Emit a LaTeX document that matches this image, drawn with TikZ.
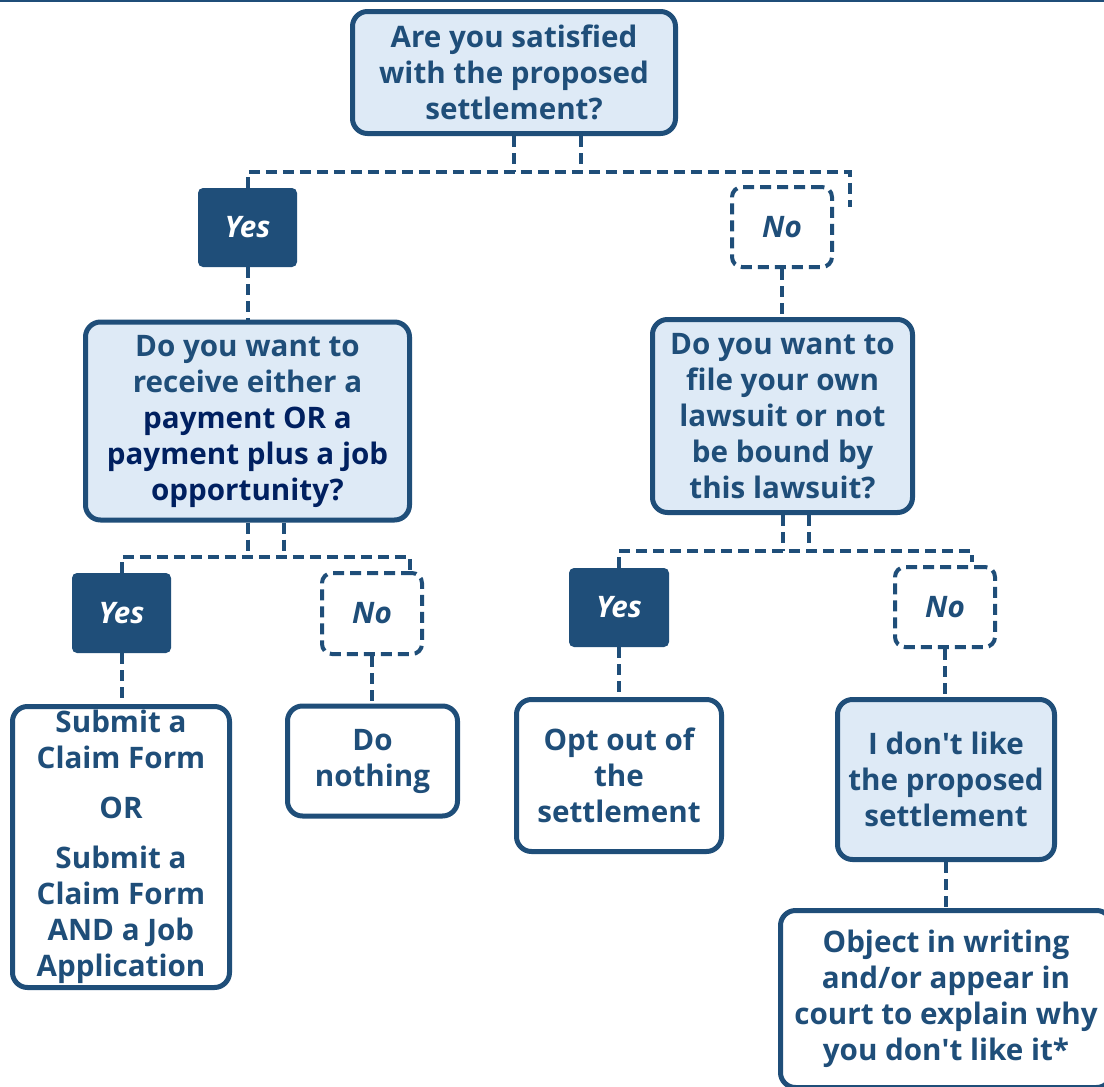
\documentclass[tikz,border=0pt]{standalone}
\usepackage{fontspec}
\setmainfont{Open Sans}
\setmonofont{Open Sans}
\definecolor{dblue}{HTML}{1F4E79}
\definecolor{navy}{HTML}{002060}
\definecolor{lblue}{HTML}{DEEAF6}
\newcommand{\apo}{{\ttfamily\bfseries '}}
\tikzset{
  txt/.style={font=\fontsize{14.8}{18}\selectfont\bfseries, text=dblue, align=center, inner sep=0pt},
  qbox/.style={txt, draw=dblue, line width=2.5pt, fill=lblue, rounded corners=7.5pt},
  abox/.style={txt, draw=dblue, line width=2.5pt, fill=white, rounded corners=7.5pt},
  yesbox/.style={txt, font=\fontsize{14.8}{18}\selectfont\bfseries\itshape, text=white, fill=dblue, rounded corners=2.5pt},
  nobox/.style={txt, font=\fontsize{14.8}{18}\selectfont\bfseries\itshape, draw=dblue, line width=2pt, dash pattern=on 5.5pt off 3pt, fill=white, rounded corners=5pt},
  conn/.style={draw=dblue, line width=2pt, dash pattern=on 5.5pt off 3pt}
}
\begin{document}
\begin{tikzpicture}[x=0.5pt, y=-0.5pt]
\useasboundingbox (0,0) rectangle (1104,1087);
\clip (0,0) rectangle (1104,1087);
\fill[white] (0,0) rectangle (1104,1087);
\draw[dblue, line width=1pt] (0,1) -- (1104,1);

% nodes
\node[qbox, minimum width=161.5pt, minimum height=61pt] (q1) at (514,72.5)
  {Are you satisfied\\with the proposed\\settlement?};
\node[yesbox, minimum width=49.5pt, minimum height=39.5pt] (yes1) at (247.5,227.5) {Yes};
\node[nobox, minimum width=50pt, minimum height=40pt] (no1) at (782,227) {No};

\node[qbox, minimum width=162pt, minimum height=99pt] (q2) at (247.5,421)
  {Do you want to\\receive either a\\\textcolor{navy}{payment OR a}\\\textcolor{navy}{payment plus a job}\\\textcolor{navy}{opportunity?}};
\node[qbox, minimum width=130pt, minimum height=96.5pt] (q3) at (782.5,416)
  {Do you want to\\file your own\\lawsuit or not\\be bound by\\this lawsuit?};

\node[yesbox, minimum width=49.5pt, minimum height=40pt] (yes2) at (121.5,613) {Yes};
\node[nobox, minimum width=50pt, minimum height=40.5pt] (no2) at (372,613.5) {No};
\node[yesbox, minimum width=50pt, minimum height=39.5pt] (yes3) at (619,607.5) {Yes};
\node[nobox, minimum width=50pt, minimum height=40pt] (no3) at (945,607) {No};

\node[abox, minimum width=108.5pt, minimum height=140.5pt] (claim) at (121,847)
  {Submit a\\Claim Form\\[7pt]OR\\[7pt]Submit a\\Claim Form\\AND a Job\\Application};
\node[abox, minimum width=85pt, minimum height=55pt] (nothing) at (372.5,761)
  {Do\\nothing};
\node[abox, minimum width=102.5pt, minimum height=76pt] (optout) at (619,775.5)
  {Opt out of\\the\\settlement};
\node[qbox, minimum width=108.5pt, minimum height=80pt] (dislike) at (946,779.5)
  {I don\apo t like\\the proposed\\settlement};
\node[abox, minimum width=165.5pt, minimum height=88.5pt] (object) at (946,999)
  {Object in writing\\and/or appear in\\court to explain why\\you don\apo t like it*};

% bus coordinates and free ends
\coordinate (bus1) at (0,172);
\coordinate (end1) at (850,207);
\coordinate (bus2) at (0,557);
\coordinate (end2) at (410,572);
\coordinate (bus3) at (0,551);
\coordinate (end3) at (972,562);

% first split
\draw[conn] (q1.south) -- (q1.south |- bus1);
\draw[conn] ([xshift=33.5pt]q1.south) -- ([xshift=33.5pt]q1.south |- bus1);
\draw[conn] (yes1.north) -- (yes1.north |- bus1) -| (end1);

% second split
\draw[conn] (q2.south) -- (q2.south |- bus2);
\draw[conn] ([xshift=18pt]q2.south) -- ([xshift=18pt]q2.south |- bus2);
\draw[conn] (yes2.north) -- (yes2.north |- bus2) -| (end2);

% third split
\draw[conn] (q3.south) -- (q3.south |- bus3);
\draw[conn] ([xshift=13pt]q3.south) -- ([xshift=13pt]q3.south |- bus3);
\draw[conn] (yes3.north) -- (yes3.north |- bus3) -| (end3);

% straight links
\draw[conn] (yes1.south) -- (q2.north);
\draw[conn] (no1.south) -- (no1.south |- q3.north);
\draw[conn] (yes2.south) -- (yes2.south |- claim.north);
\draw[conn] (no2.south) -- (no2.south |- nothing.north);
\draw[conn] (yes3.south) -- (optout.north);
\draw[conn] (no3.south) -- (no3.south |- dislike.north);
\draw[conn] (dislike.south) -- (object.north);
\end{tikzpicture}
\end{document}
